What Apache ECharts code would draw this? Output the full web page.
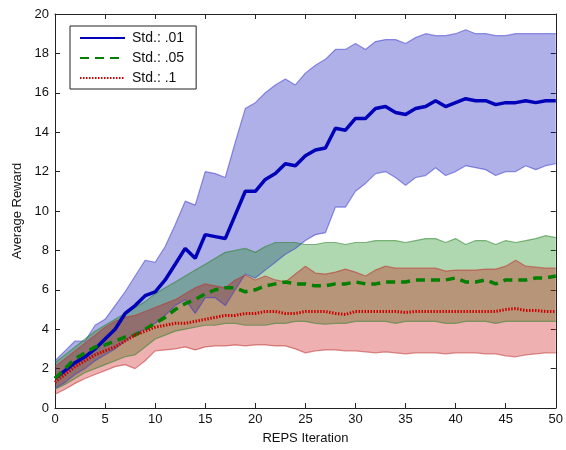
<!DOCTYPE html>
<html>
<head>
<meta charset="utf-8">
<script src="https://cdn.jsdelivr.net/npm/echarts@6/dist/echarts.min.js"></script>
<style>
  html, body { margin: 0; padding: 0; background: #fff; }
  #chart { width: 566px; height: 450px; }
</style>
</head>
<body>
<div id="chart"></div>
<script>
// REPS iterations (x)
const iterations = [0, 1, 2, 3, 4, 5, 6, 7, 8, 9, 10, 11, 12, 13, 14, 15, 16, 17, 18, 19, 20,
  21, 22, 23, 24, 25, 26, 27, 28, 29, 30, 31, 32, 33, 34, 35, 36, 37, 38, 39, 40,
  41, 42, 43, 44, 45, 46, 47, 48, 49, 50];

// Std .01 (blue)
const meanA = [1.5, 1.9, 2.3, 2.6, 3.0, 3.5, 4.0, 4.8, 5.2, 5.7, 5.9, 6.5, 7.3, 8.1, 7.6, 8.8, 8.7, 8.6, 9.8, 11.0, 11.0,
  11.6, 11.9, 12.4, 12.3, 12.8, 13.1, 13.2, 14.2, 14.1, 14.7, 14.7, 15.2, 15.3, 15.0, 14.9, 15.2, 15.3, 15.6, 15.3, 15.5,
  15.7, 15.6, 15.6, 15.4, 15.5, 15.5, 15.6, 15.5, 15.6, 15.6];
const upperA = [2.4, 2.9, 3.4, 3.4, 4.2, 4.5, 5.2, 5.9, 6.7, 7.5, 7.4, 8.2, 9.3, 10.5, 10.3, 12.0, 11.9, 11.7, 13.5, 15.2, 15.5,
  16.0, 16.4, 16.7, 16.4, 17.0, 17.4, 17.7, 18.2, 18.2, 18.5, 18.2, 18.6, 18.7, 18.7, 18.5, 18.8, 19.0, 18.9, 18.9, 19.0,
  19.2, 19.0, 19.0, 18.9, 18.9, 19.0, 19.0, 19.0, 19.0, 19.0];
const lowerA = [1.0, 1.3, 1.7, 2.0, 2.4, 2.7, 3.0, 3.4, 3.8, 4.0, 4.3, 4.7, 5.2, 5.5, 4.8, 5.6, 5.6, 5.2, 6.0, 6.8, 6.6,
  7.0, 7.4, 7.8, 8.1, 8.5, 8.8, 8.9, 10.2, 10.2, 11.0, 11.4, 11.9, 12.0, 11.7, 11.3, 11.7, 11.8, 12.2, 11.8, 12.0,
  12.3, 12.2, 12.1, 11.8, 12.0, 12.0, 12.3, 12.1, 12.3, 12.4];

// Std .05 (green)
const meanB = [1.5, 2.0, 2.5, 2.8, 3.1, 3.2, 3.4, 3.6, 3.7, 4.0, 4.3, 4.6, 5.0, 5.3, 5.5, 5.8, 6.0, 6.1, 6.1, 5.9, 6.0,
  6.2, 6.3, 6.4, 6.3, 6.3, 6.2, 6.2, 6.3, 6.3, 6.4, 6.3, 6.3, 6.4, 6.4, 6.4, 6.5, 6.5, 6.5, 6.5, 6.6,
  6.4, 6.4, 6.5, 6.3, 6.5, 6.5, 6.5, 6.6, 6.6, 6.7];
const upperB = [2.3, 2.7, 3.1, 3.5, 3.9, 4.2, 4.5, 4.8, 5.1, 5.4, 5.8, 6.1, 6.4, 6.7, 7.0, 7.3, 7.6, 7.9, 8.0, 8.1, 7.9,
  8.2, 8.4, 8.4, 8.4, 8.3, 8.3, 8.4, 8.4, 8.3, 8.4, 8.4, 8.5, 8.5, 8.5, 8.4, 8.5, 8.6, 8.6, 8.4, 8.6,
  8.3, 8.5, 8.5, 8.3, 8.5, 8.4, 8.5, 8.6, 8.75, 8.65];
const lowerB = [0.95, 1.2, 1.5, 1.8, 2.0, 2.2, 2.4, 2.6, 2.7, 3.1, 3.5, 3.7, 3.9, 4.0, 4.1, 4.2, 4.2, 4.3, 4.3, 4.2, 4.2,
  4.2, 4.3, 4.3, 4.4, 4.4, 4.3, 4.25, 4.3, 4.3, 4.4, 4.4, 4.4, 4.4, 4.3, 4.4, 4.4, 4.4, 4.4, 4.3, 4.3,
  4.4, 4.4, 4.4, 4.3, 4.4, 4.4, 4.4, 4.4, 4.4, 4.4];

// Std .1 (red)
const meanC = [1.3, 1.7, 2.1, 2.4, 2.7, 2.9, 3.1, 3.4, 3.7, 3.9, 4.1, 4.2, 4.3, 4.3, 4.4, 4.5, 4.6, 4.7, 4.7, 4.8, 4.8,
  4.9, 4.9, 4.8, 4.8, 4.9, 4.9, 4.9, 4.8, 4.75, 4.9, 4.9, 4.9, 4.9, 4.9, 4.85, 4.9, 4.9, 4.9, 4.9, 4.9,
  4.9, 4.9, 4.9, 4.9, 5.0, 5.05, 4.95, 4.95, 4.9, 4.9];
const upperC = [2.1, 2.5, 2.9, 3.3, 3.7, 4.1, 4.4, 4.6, 4.7, 4.9, 5.1, 5.3, 5.5, 5.8, 6.1, 6.3, 6.2, 6.1, 6.5, 6.75, 6.5,
  6.7, 6.5, 6.4, 6.8, 7.2, 6.85, 6.8, 6.9, 7.05, 6.9, 6.7, 7.0, 7.2, 7.1, 7.1, 7.1, 7.1, 7.1, 6.95, 7.0,
  7.0, 7.0, 7.05, 7.05, 7.2, 7.5, 7.2, 7.15, 7.1, 7.1];
const lowerC = [0.7, 0.95, 1.25, 1.5, 1.7, 1.9, 2.1, 2.2, 2.0, 2.4, 2.9, 2.95, 3.0, 3.1, 2.95, 3.1, 3.15, 3.15, 3.2, 3.15, 3.2,
  3.2, 3.15, 3.15, 3.0, 2.8, 2.9, 2.95, 2.95, 2.9, 2.9, 2.85, 2.8, 2.85, 2.8, 2.75, 2.8, 2.8, 2.8, 2.75, 2.8,
  2.8, 2.8, 2.75, 2.75, 2.65, 2.6, 2.7, 2.75, 2.8, 2.8];

const FONT = 'Liberation Sans, Arial, sans-serif';

// shaded band = transparent lower line + stacked (upper - lower) area
function band(key, lower, upper, fill, edge) {
  return [
    {
      name: key + '-lo',
      type: 'line',
      stack: key,
      data: lower,
      symbol: 'none',
      lineStyle: { color: edge, width: 1.2 },
      silent: true,
      z: 1
    },
    {
      name: key + '-hi',
      type: 'line',
      stack: key,
      data: upper.map((u, i) => +(u - lower[i]).toFixed(3)),
      symbol: 'none',
      lineStyle: { color: edge, width: 1.2 },
      areaStyle: { color: fill, opacity: 1 },
      silent: true,
      z: 1
    }
  ];
}

const chart = echarts.init(document.getElementById('chart'));

const axisLine = { show: true, onZero: false, lineStyle: { color: '#222', width: 1 } };
const xTick = { show: true, inside: true, length: 5, interval: 4, alignWithLabel: true, lineStyle: { color: '#222' } };
const yTick = { show: true, inside: true, length: 5, lineStyle: { color: '#222' } };

chart.setOption({
  animation: false,
  backgroundColor: '#fff',
  grid: { left: 55, right: 9, top: 14, bottom: 40 },
  legend: {
    data: ['Std.: .01', 'Std.: .05', 'Std.: .1'],
    orient: 'vertical',
    left: 70,
    top: 26,
    itemWidth: 45,
    itemHeight: 10,
    itemGap: 6,
    padding: [5, 12, 4, 9],
    borderColor: '#222',
    borderWidth: 1,
    borderRadius: 0,
    backgroundColor: '#fff',
    itemStyle: { opacity: 0 },
    textStyle: { fontFamily: FONT, fontSize: 14, color: '#111', padding: [0, 0, 0, 2] }
  },
  xAxis: [
    {
      type: 'category',
      data: iterations,
      boundaryGap: false,
      name: 'REPS Iteration',
      nameLocation: 'middle',
      nameGap: 24,
      nameTextStyle: { fontFamily: FONT, fontSize: 13, color: '#111' },
      axisLine: axisLine,
      axisTick: xTick,
      axisLabel: { interval: 4, fontFamily: FONT, fontSize: 13, color: '#111', margin: 5 },
      splitLine: { show: false }
    },
    {
      type: 'category',
      data: iterations,
      boundaryGap: false,
      position: 'top',
      axisLine: axisLine,
      axisTick: xTick,
      axisLabel: { show: false },
      splitLine: { show: false }
    }
  ],
  yAxis: [
    {
      type: 'value',
      min: 0,
      max: 20,
      interval: 2,
      name: 'Average Reward',
      nameLocation: 'middle',
      nameGap: 31,
      nameTextStyle: { fontFamily: FONT, fontSize: 13, color: '#111' },
      axisLine: axisLine,
      axisTick: yTick,
      axisLabel: { fontFamily: FONT, fontSize: 13, color: '#111', margin: 6 },
      splitLine: { show: false }
    },
    {
      type: 'value',
      position: 'right',
      min: 0,
      max: 20,
      interval: 2,
      axisLine: axisLine,
      axisTick: yTick,
      axisLabel: { show: false },
      splitLine: { show: false }
    }
  ],
  series: [
    ...band('A', lowerA, upperA, 'rgba(0,0,180,0.31)', 'rgba(60,60,210,0.55)'),
    ...band('B', lowerB, upperB, 'rgba(0,128,0,0.31)', 'rgba(40,130,40,0.55)'),
    ...band('C', lowerC, upperC, 'rgba(200,0,0,0.31)', 'rgba(190,50,50,0.55)'),
    {
      name: 'Std.: .01',
      type: 'line',
      data: meanA,
      symbol: 'none',
      lineStyle: { color: '#0000b8', width: 3.5 },
      itemStyle: { color: '#0000b8' },
      z: 5
    },
    {
      name: 'Std.: .05',
      type: 'line',
      data: meanB,
      symbol: 'none',
      lineStyle: { color: '#007f00', width: 3.5, type: [9, 6] },
      itemStyle: { color: '#007f00' },
      z: 5
    },
    {
      name: 'Std.: .1',
      type: 'line',
      data: meanC,
      symbol: 'none',
      lineStyle: { color: '#cc0000', width: 3, type: [1.5, 1.5] },
      itemStyle: { color: '#cc0000' },
      z: 5
    }
  ]
});
</script>
</body>
</html>
